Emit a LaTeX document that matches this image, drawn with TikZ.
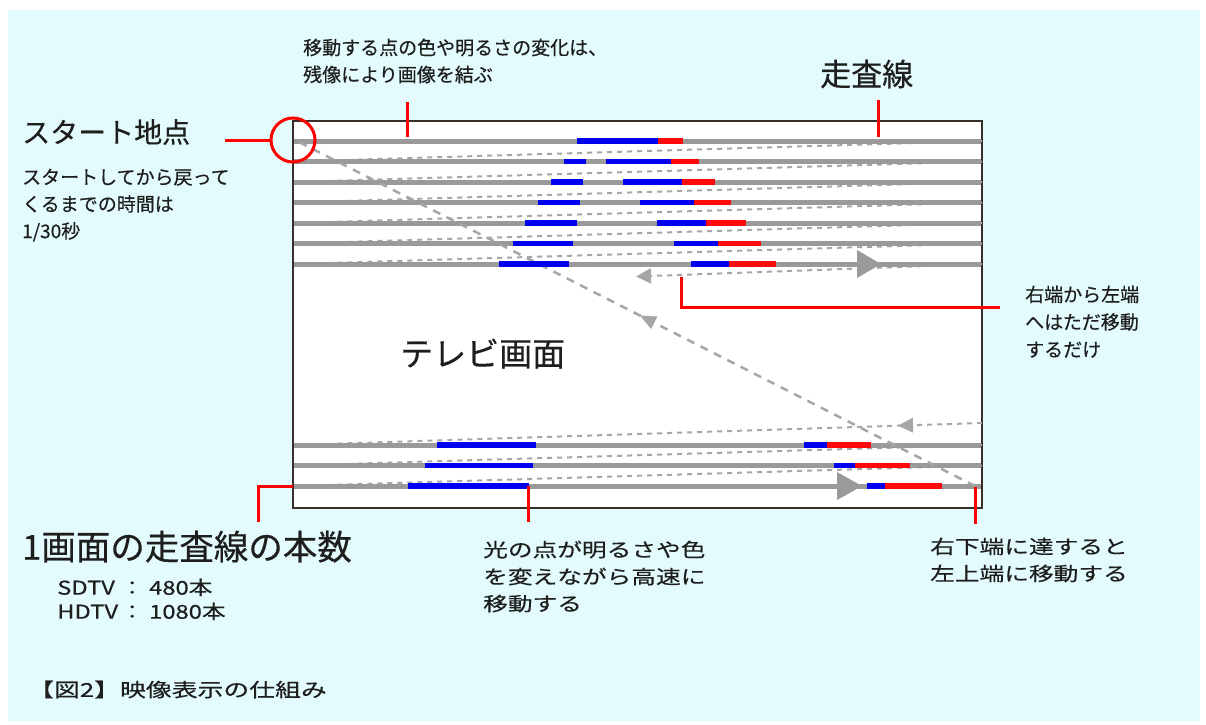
\documentclass[tikz,border=0pt]{standalone}
\usepackage{fontspec}
\setmainfont[FakeBold=0.4]{Noto Sans CJK JP}
\newfontfamily\widefont[FakeStretch=1.3,FakeBold=0.4]{Noto Sans CJK JP}
\newfontfamily\midwidefont[FakeStretch=1.25,FakeBold=0.4]{Noto Sans CJK JP}
\newfontfamily\capfont[FakeStretch=1.36,FakeBold=0.4]{Noto Sans CJK JP}
\usetikzlibrary{arrows.meta}
\definecolor{bgc}{HTML}{E3FBFD}
\definecolor{scang}{HTML}{9A9A9A}
\definecolor{dashg}{HTML}{A6A6A6}
\definecolor{frame}{HTML}{3A2E28}
\definecolor{txt}{HTML}{1E1E1E}
\definecolor{segblue}{HTML}{0000F0}
\definecolor{segred}{HTML}{FF0A0A}
\tikzset{
  scanline/.style={draw=scang,line width=5pt},
  retrace/.style={draw=dashg,line width=2pt,dash pattern=on 5pt off 5pt},
  diagline/.style={draw=dashg,line width=2.5pt,dash pattern=on 8pt off 7pt},
  dashtip/.style={fill=dashg},
  bseg/.style={draw=segblue,line width=5.5pt},
  rseg/.style={draw=segred,line width=5.5pt},
  callout/.style={draw=red,line width=3pt},
  tvframe/.style={draw=frame,line width=2pt,fill=white},
  bigtri/.style={fill=scang},
  lbl/.style={anchor=north west,inner sep=0pt,text=txt,align=left,font=\fontsize{19}{27}\selectfont},
  widelbl/.style={anchor=north west,inner sep=0pt,text=txt,align=left,font=\widefont\fontsize{19}{27}\selectfont},
  biglbl/.style={anchor=north west,inner sep=0pt,text=txt,align=left},
}
\begin{document}
\begin{tikzpicture}[x=1pt,y=-1pt]
\useasboundingbox (0,0) rectangle (1206,724);
\fill[white] (0,0) rectangle (1206,724);
\fill[bgc] (8,10) rectangle (1200,721);
% TV screen
\draw[tvframe] (293,121) rectangle (982,508);
% retrace dashed lines (top group)
\foreach \ya/\yb in {141/161.5,161.5/182,182/202.5,202.5/223,223/243.5,243.5/264}{
  \draw[retrace] (982,\ya) -- (293,\yb);
}
\coordinate (rtA) at (982,264);
\coordinate (rtB) at (636,276.5);
\draw[retrace,-{Triangle[length=15pt,width=15pt]}] (rtA) -- (rtB);
% retrace dashed lines (bottom group)
\coordinate (rbA) at (982,423);
\coordinate (rbB) at (293,445);
\draw[retrace] (rbA) -- (rbB);
\fill[dashtip] (898,425.7) -- (913.2,432.7) -- (912.8,417.7) -- cycle;
\foreach \ya/\yb in {445/465.5,465.5/486}{
  \draw[retrace] (982,\ya) -- (293,\yb);
}
% scan lines
\foreach \y in {141,161.5,182,202.5,223,243.5,264,445,465.5,486}{
  \draw[scanline] (294,\y) -- (981,\y);
}
% diagonal return
\coordinate (dA) at (975,486);
\coordinate (dB) at (297,141);
\draw[diagline] (dA) -- (dB);
\fill[dashtip] (640,315.5) -- (657.4,316.5) -- (651.1,329.0) -- cycle;
% colored segments
\draw[bseg] (577,141) -- (658,141);
\draw[rseg] (658,141) -- (683,141);
\foreach \y/\a/\b/\c/\d/\e in {
  161.5/564/586/606/671/699,
  182/551/583/623/682/715,
  202.5/538/580/640/694/731,
  223/525/577/657/706/746,
  243.5/513/573/674/718/761,
  264/499/569/691/729/776,
  445/437/536/804/827/871,
  465.5/425/533/834/855/910,
  486/408/529/867/885/942}{
  \draw[bseg] (\a,\y) -- (\b,\y);
  \draw[bseg] (\c,\y) -- (\d,\y);
  \draw[rseg] (\d,\y) -- (\e,\y);
}
% big direction triangles
\fill[bigtri] (881,264) -- (857,250) -- (857,278) -- cycle;
\fill[bigtri] (862,486) -- (837,472) -- (837,500) -- cycle;
% red callouts
\draw[callout] (293,140) circle (22);
\coordinate (c1a) at (225,140);
\coordinate (c1b) at (271,140);
\draw[callout] (c1a) -- (c1b);
\coordinate (c2a) at (407,102);
\coordinate (c2b) at (407,137);
\draw[callout] (c2a) -- (c2b);
\coordinate (c3a) at (878,100);
\coordinate (c3b) at (878,137);
\draw[callout] (c3a) -- (c3b);
\coordinate (c4a) at (681,277);
\coordinate (c4b) at (1000,307);
\draw[callout] (c4a) |- (c4b);
\coordinate (c5a) at (293,486);
\coordinate (c5b) at (258,522);
\draw[callout] (c5a) -| (c5b);
\coordinate (c6a) at (528,486);
\coordinate (c6b) at (528,522);
\draw[callout] (c6a) -- (c6b);
\coordinate (c7a) at (975,487);
\coordinate (c7b) at (975,524);
\draw[callout] (c7a) -- (c7b);
% labels
\node[lbl] (t1) at (303,38.5) {移動する点の色や明るさの変化は、\\残像により画像を結ぶ};
\node[biglbl,font=\fontsize{31}{36}\selectfont] (t2) at (820,59.5) {走査線};
\node[biglbl,font=\fontsize{28}{34}\selectfont] (t3) at (22,119) {スタート地点};
\node[lbl] (t4) at (22,168.5) {スタートしてから戻って\\くるまでの時間は\\1/30秒};
\node[biglbl,font=\fontsize{33}{40}\selectfont] (t5) at (400,338.5) {テレビ画面};
\node[lbl,font=\fontsize{19}{27.5}\selectfont] (t6) at (1025,285.5) {右端から左端\\へはただ移動\\するだけ};
\node[biglbl,font=\fontsize{34.5}{40}\selectfont] (t7) at (22,530.5) {1画面の走査線の本数};
\node[biglbl,font=\midwidefont\fontsize{19}{24}\selectfont] (t8) at (57,578.5) {\makebox[64pt][l]{SDTV}\makebox[22pt][c]{：}\hspace{6pt}480本\\\makebox[64pt][l]{HDTV}\makebox[22pt][c]{：}\hspace{6pt}1080本};
\node[widelbl] (t9) at (483,540.5) {光の点が明るさや色\\を変えながら高速に\\移動する};
\node[widelbl] (t10) at (930,537.5) {右下端に達すると\\左上端に移動する};
\node[biglbl,font=\capfont\fontsize{19}{24}\selectfont] (t11) at (28,680.5) {【図2】映像表示の仕組み};
\end{tikzpicture}
\end{document}
